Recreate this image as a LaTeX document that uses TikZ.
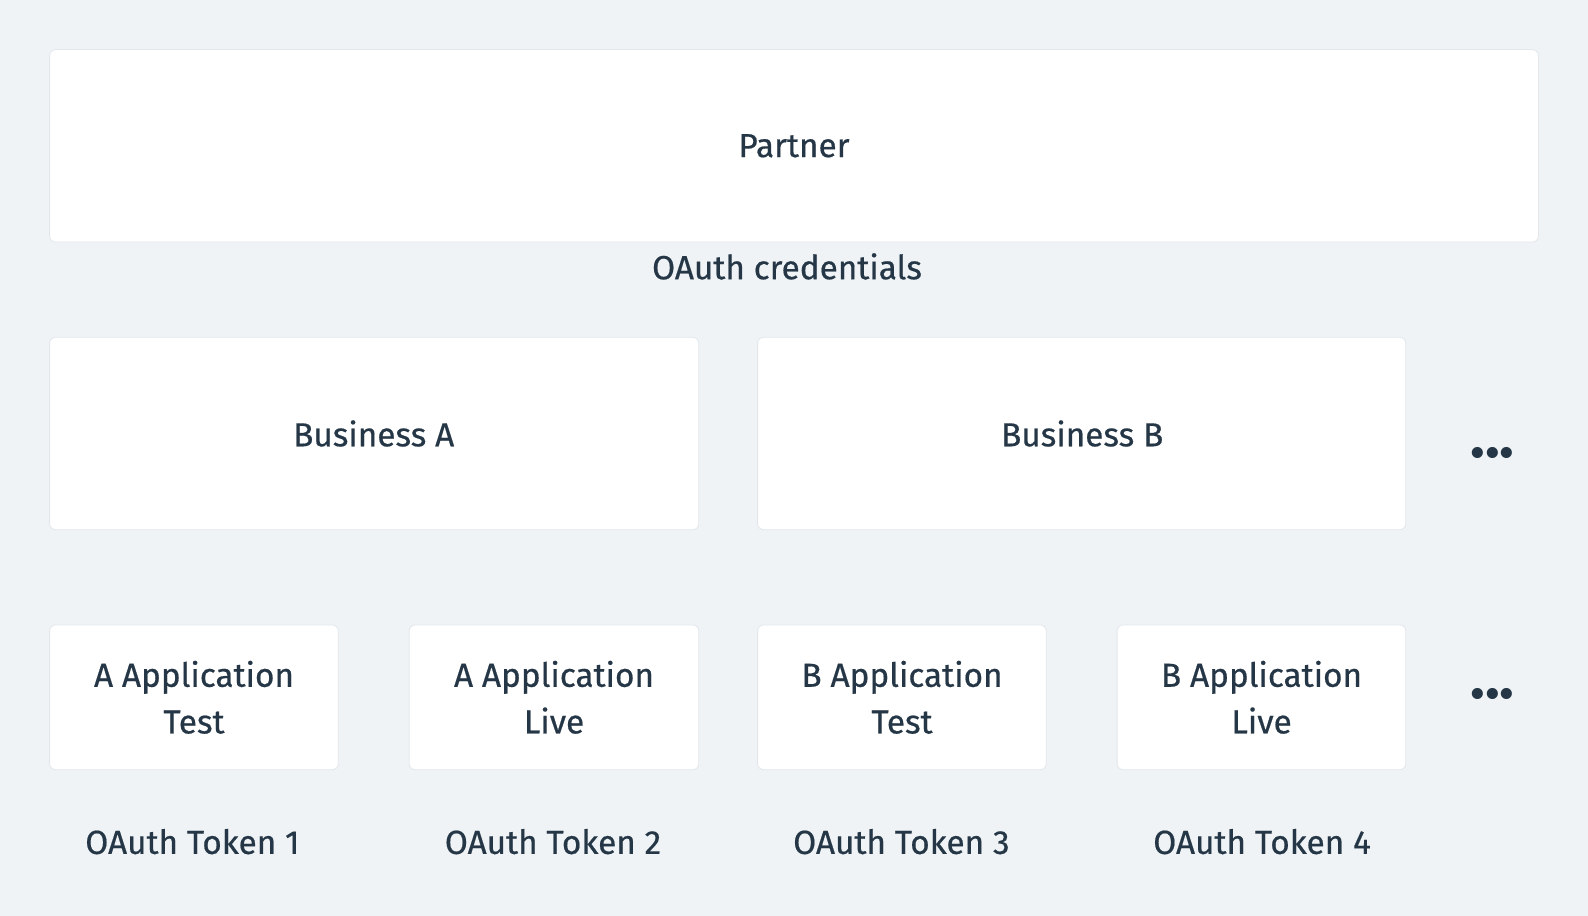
\documentclass[tikz,border=0pt]{standalone}
\usepackage{fontspec}
\setmainfont{Fira Sans}
\newfontfamily\cardfont{Fira Sans}[FakeBold=0.5]
\definecolor{bgcol}{RGB}{239,243,246}
\definecolor{inkcol}{RGB}{37,55,70}
\definecolor{edgecol}{RGB}{226,231,236}
\tikzset{every picture/.style={line width=0.75pt}}
\tikzset{
  card/.style={draw=edgecol, fill=white, rounded corners=4.5pt, line width=0.6pt},
  label/.style={inner sep=0.75pt, text=inkcol, font=\cardfont\fontsize{25}{35}\selectfont, align=center},
  dots/.style={inner sep=0.75pt, text=inkcol, font=\fontsize{46}{46}\selectfont\bfseries}
}
\begin{document}
\begin{tikzpicture}[x=0.75pt,y=0.75pt,yscale=-1,xscale=1]
%Background
\fill [bgcol] (0,0) rectangle (1588,916);
\useasboundingbox (0,0) rectangle (1588,916);

%Shape: Rectangle [Partner]
\draw [card] (49.6,49.6) rectangle (1538.4,242.1);
%Shape: Rectangle [Business A]
\draw [card] (49.6,337.3) rectangle (698.8,529.7);
%Shape: Rectangle [Business B]
\draw [card] (757.6,337.3) rectangle (1405.8,529.7);
%Shape: Rectangle [Applications]
\draw [card] (49.6,624.9) rectangle (338.3,769.7);
\draw [card] (409.2,624.9) rectangle (698.8,769.7);
\draw [card] (757.6,624.9) rectangle (1046.2,769.7);
\draw [card] (1117.1,624.9) rectangle (1405.8,769.7);

% Text Node
\draw (794,145.8) node [label] (partner) {Partner};
% Text Node
\draw (787,266.4) node [label] (creds) {OAuth credentials};
% Text Node
\draw (373.7,433.5) node [label] (busa) {Business A};
% Text Node
\draw (1082.2,433.5) node [label] (busb) {Business B};
% Text Node
\draw (1492.5,453) node [dots] (moreb) {...};
% Text Node
\draw (194,697.3) node [label] (appat) {A Application\\Test};
% Text Node
\draw (554,697.3) node [label] (appal) {A Application\\Live};
% Text Node
\draw (902,697.3) node [label] (appbt) {B Application\\Test};
% Text Node
\draw (1261.5,697.3) node [label] (appbl) {B Application\\Live};
% Text Node
\draw (1492.5,694) node [dots] (morea) {...};
% Text Node
\draw (192.4,841.6) node [label] (tok1) {OAuth Token 1};
% Text Node
\draw (553,841.6) node [label] (tok2) {OAuth Token 2};
% Text Node
\draw (901.4,841.6) node [label] (tok3) {OAuth Token 3};
% Text Node
\draw (1262,841.6) node [label] (tok4) {OAuth Token 4};

\end{tikzpicture}
\end{document}
